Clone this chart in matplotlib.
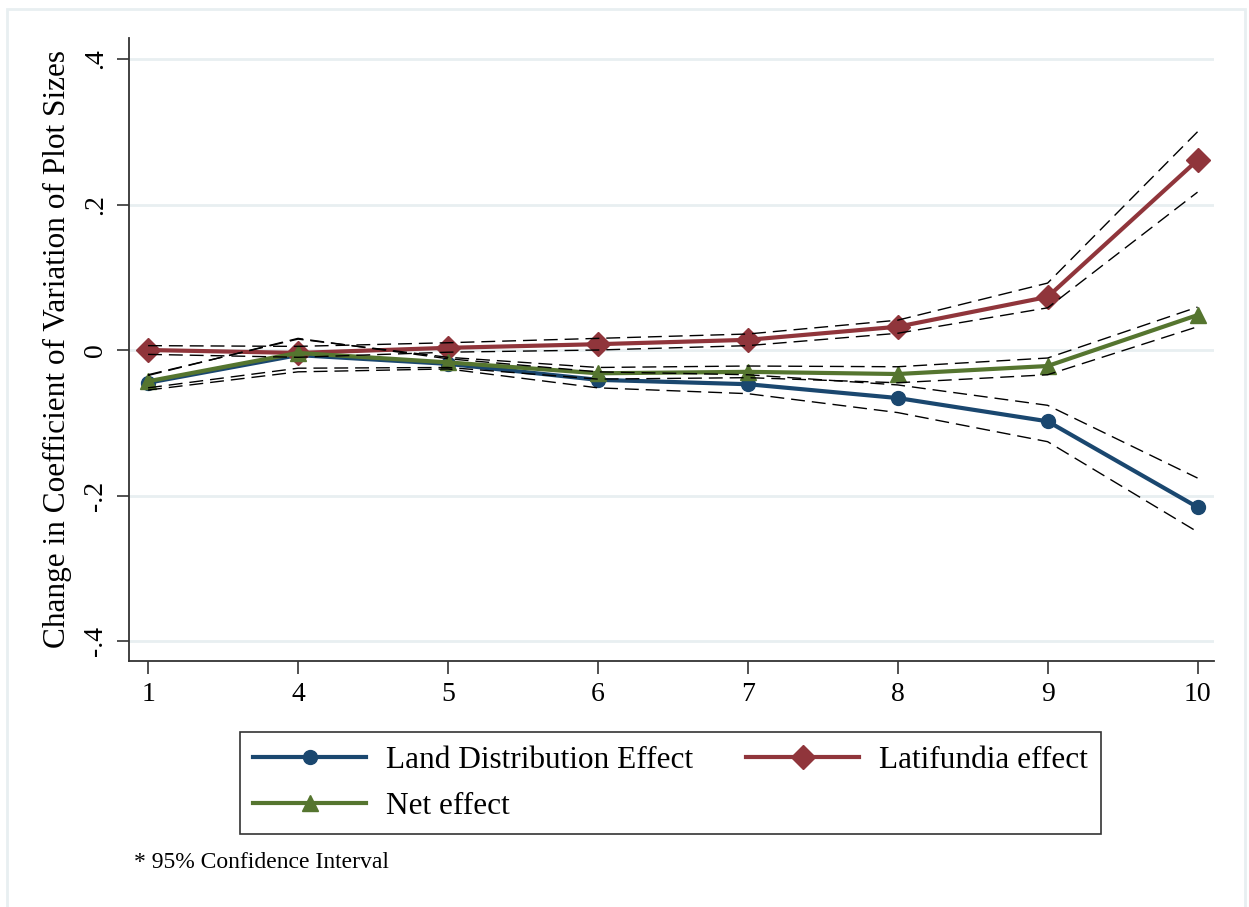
import numpy as np
import matplotlib
matplotlib.use('Agg')
import matplotlib.pyplot as plt
from matplotlib.patches import Rectangle

plt.rcParams['font.family'] = ['Liberation Serif', 'DejaVu Serif']

# deciles on the x axis (categorical positions)
deciles = ['1', '4', '5', '6', '7', '8', '9', '10']

land_dist = [-0.045, -0.007, -0.019, -0.041, -0.047, -0.066, -0.098, -0.216]
land_lo = [-0.055, -0.030, -0.026, -0.052, -0.060, -0.086, -0.126, -0.250]
land_hi = [-0.035, 0.016, -0.012, -0.030, -0.034, -0.048, -0.076, -0.176]

latifundia = [0.000, -0.004, 0.003, 0.008, 0.014, 0.032, 0.073, 0.261]
lati_lo = [-0.006, -0.010, -0.003, 0.000, 0.006, 0.023, 0.058, 0.217]
lati_hi = [0.006, 0.005, 0.010, 0.016, 0.022, 0.041, 0.092, 0.300]

net = [-0.043, -0.004, -0.017, -0.032, -0.030, -0.033, -0.022, 0.048]
net_lo = [-0.052, -0.025, -0.024, -0.040, -0.038, -0.045, -0.034, 0.032]
net_hi = [-0.034, 0.015, -0.010, -0.024, -0.022, -0.023, -0.011, 0.059]

yticks = [-0.4, -0.2, 0.0, 0.2, 0.4]
ytick_labels = ['-.4', '-.2', '0', '.2', '.4']

navy = '#1a476f'
maroon = '#90353b'
fgreen = '#55752f'

fig = plt.figure(figsize=(12.49, 9.07), dpi=100)
ax = fig.add_axes([0.1033, 0.2712, 0.8687, 0.687])

x = np.arange(len(deciles))

# confidence bands, thin dashed
for lo, hi in [(land_lo, land_hi), (lati_lo, lati_hi), (net_lo, net_hi)]:
    ax.plot(x, lo, color='black', lw=1.0, linestyle=(0, (10, 5)), zorder=4)
    ax.plot(x, hi, color='black', lw=1.0, linestyle=(0, (10, 5)), zorder=4)

l1, = ax.plot(x, land_dist, color=navy, lw=3, marker='o', ms=10, zorder=3,
              label='Land Distribution Effect')
l2, = ax.plot(x, latifundia, color=maroon, lw=3, marker='D', ms=12, zorder=3,
              label='Latifundia effect')
l3, = ax.plot(x, net, color=fgreen, lw=3, marker='^', ms=12, zorder=3,
              label='Net effect')

ax.set_xlim(-0.127, 7.11)
ax.set_ylim(-0.4275, 0.429)
ax.set_xticks(x)
ax.set_xticklabels(deciles, fontsize=20)
ax.set_yticks(yticks)
ax.set_yticklabels(ytick_labels, fontsize=20, rotation=90, va='center')
ax.yaxis.grid(True, color='#e8eff1', lw=2)
ax.set_axisbelow(True)
ax.tick_params(axis='both', length=9, width=1.2, color='#333333', pad=6)

for s in ['top', 'right']:
    ax.spines[s].set_visible(False)
for s in ['left', 'bottom']:
    ax.spines[s].set_color('#333333')
    ax.spines[s].set_linewidth(1.3)

ax.set_ylabel('Change in Coefficient of Variation of Plot Sizes', fontsize=22.5,
              labelpad=8)

leg = fig.legend([l1, l3, l2], ['Land Distribution Effect', 'Net effect', 'Latifundia effect'],
                 ncol=2, fontsize=22.5, loc='center', bbox_to_anchor=(0.537, 0.1365),
                 frameon=True, fancybox=False, edgecolor='black', handlelength=3.6,
                 handletextpad=0.65, columnspacing=1.7, borderpad=0.42, labelspacing=0.55)
leg.get_frame().set_linewidth(1.2)

fig.text(0.107, 0.043, '* 95% Confidence Interval', fontsize=17)

# outer graph region border
fig.patches.append(Rectangle((0.0056, -0.01), 0.9912, 1.0, transform=fig.transFigure,
                             fill=False, edgecolor='#e8eff1', lw=2))

fig.savefig('out.png', dpi=100)
